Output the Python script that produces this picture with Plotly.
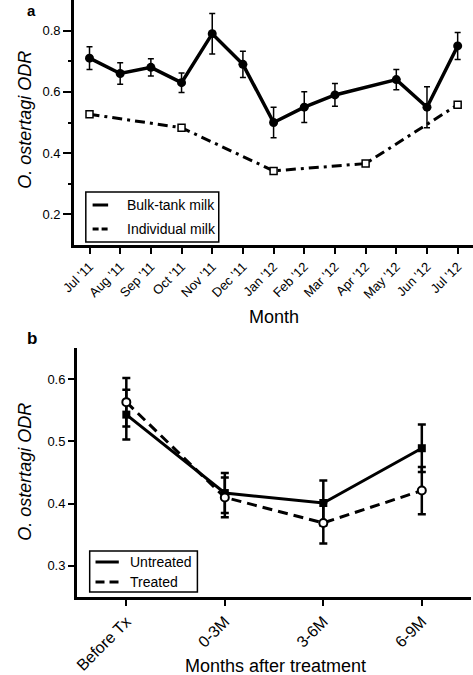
import plotly.graph_objects as go

# ---------------- Data ----------------
months = ["Jul '11", "Aug '11", "Sep '11", "Oct '11", "Nov '11", "Dec '11",
          "Jan '12", "Feb '12", "Mar '12", "Apr '12", "May '12", "Jun '12", "Jul '12"]

bulk_months = ["Jul '11", "Aug '11", "Sep '11", "Oct '11", "Nov '11", "Dec '11",
               "Jan '12", "Feb '12", "Mar '12", "May '12", "Jun '12", "Jul '12"]
bulk_odr = [0.71, 0.66, 0.68, 0.63, 0.79, 0.69, 0.50, 0.55, 0.59, 0.64, 0.55, 0.75]
bulk_err = [0.037, 0.035, 0.028, 0.032, 0.066, 0.043, 0.05, 0.05, 0.037, 0.033, 0.067, 0.044]

indiv_months = ["Jul '11", "Oct '11", "Jan '12", "Apr '12", "Jul '12"]
indiv_odr = [0.527, 0.483, 0.342, 0.366, 0.558]

periods = ["Before Tx", "0-3M", "3-6M", "6-9M"]
untreated_odr = [0.543, 0.417, 0.401, 0.489]
untreated_err = [0.040, 0.032, 0.036, 0.038]
treated_odr = [0.563, 0.410, 0.369, 0.421]
treated_err = [0.039, 0.032, 0.033, 0.038]

a_yticks = [0.2, 0.4, 0.6, 0.8]
a_yminor = [0.3, 0.5, 0.7]
b_yticks = [0.3, 0.4, 0.5, 0.6]

FONT = "Liberation Sans, Arial, Helvetica, sans-serif"
W, H = 473, 675

def px(x):
    return x / W

def py(y):
    return 1 - y / H

fig = go.Figure()

# Panel a
fig.add_trace(go.Scatter(
    x=bulk_months, y=bulk_odr, mode="lines+markers", name="Bulk-tank milk",
    line=dict(color="black", width=3.5),
    marker=dict(symbol="circle", size=9, color="black"),
    error_y=dict(type="data", array=bulk_err, visible=True, color="black",
                 thickness=1.5, width=3),
    xaxis="x", yaxis="y", showlegend=False, cliponaxis=False))
fig.add_trace(go.Scatter(
    x=indiv_months, y=indiv_odr, mode="lines+markers", name="Individual milk",
    line=dict(color="black", width=3, dash="10px,5px,3px,5px"),
    marker=dict(symbol="square", size=7, color="white",
                line=dict(color="black", width=1.5)),
    xaxis="x", yaxis="y", showlegend=False, cliponaxis=False))

# Panel b
fig.add_trace(go.Scatter(
    x=periods, y=untreated_odr, mode="lines+markers", name="Untreated",
    line=dict(color="black", width=3),
    marker=dict(symbol="square", size=8, color="black"),
    error_y=dict(type="data", array=untreated_err, visible=True, color="black",
                 thickness=2.5, width=4),
    xaxis="x2", yaxis="y2", showlegend=False))
fig.add_trace(go.Scatter(
    x=periods, y=treated_odr, mode="lines+markers", name="Treated",
    line=dict(color="black", width=3, dash="10px,6px"),
    marker=dict(symbol="circle", size=8, color="white",
                line=dict(color="black", width=2)),
    error_y=dict(type="data", array=treated_err, visible=True, color="black",
                 thickness=2.5, width=4),
    xaxis="x2", yaxis="y2", showlegend=False))

axis_common = dict(showline=True, linecolor="black", showgrid=False, zeroline=False,
                   ticks="outside", tickcolor="black", tickwidth=2,
                   tickfont=dict(family=FONT, size=13, color="black"))

fig.update_layout(
    width=W, height=H,
    margin=dict(l=0, r=0, t=0, b=0),
    paper_bgcolor="white", plot_bgcolor="white",
    font=dict(family=FONT, color="black"),
    xaxis=dict(axis_common, domain=[px(62), 1], range=[-0.5, 12.5], type="category",
               categoryorder="array", categoryarray=months,
               tickangle=-45, ticklen=6, linewidth=3, anchor="y",
               tickfont=dict(family=FONT, size=13, color="black")),
    yaxis=dict(axis_common, domain=[py(245), 1], range=[0.1, 0.9],
               tickvals=a_yticks, ticktext=[f"{v:.1f}" for v in a_yticks],
               ticklen=8, linewidth=3, anchor="x",
               minor=dict(tickvals=a_yminor, ticks="outside", ticklen=3,
                          tickwidth=2, tickcolor="black")),
    xaxis2=dict(axis_common, domain=[px(65), px(471)], range=[-0.5, 3.5], type="category",
                categoryorder="array", categoryarray=periods,
                tickangle=-45, ticklen=6, linewidth=3, anchor="y2",
                tickfont=dict(family=FONT, size=16, color="black")),
    yaxis2=dict(axis_common, domain=[py(597), py(348)], range=[0.25, 0.65],
                tickvals=b_yticks, ticktext=[f"{v:.1f}" for v in b_yticks],
                ticklen=6, linewidth=3, anchor="x2"),
)

# Manual legends
shapes = [
    dict(type="rect", xref="paper", yref="paper", x0=px(74), x1=px(211), y0=py(242), y1=py(192),
         line=dict(color="black", width=1.5), fillcolor="white", layer="above"),
    dict(type="line", xref="paper", yref="paper", x0=px(81), x1=px(97), y0=py(205), y1=py(205),
         line=dict(color="black", width=3), layer="above"),
    dict(type="line", xref="paper", yref="paper", x0=px(81), x1=px(97), y0=py(229), y1=py(229),
         line=dict(color="black", width=3, dash="6px,3px"), layer="above"),
    dict(type="rect", xref="paper", yref="paper", x0=px(78), x1=px(189), y0=py(592), y1=py(551),
         line=dict(color="black", width=1.5), fillcolor="white", layer="above"),
    dict(type="line", xref="paper", yref="paper", x0=px(84), x1=px(108), y0=py(562), y1=py(562),
         line=dict(color="black", width=3), layer="above"),
    dict(type="line", xref="paper", yref="paper", x0=px(84), x1=px(108), y0=py(582), y1=py(582),
         line=dict(color="black", width=3, dash="9px,5px"), layer="above"),
]
fig.update_layout(shapes=shapes)

def ann(text, x, y, size, xanchor="center", angle=0, bold=False):
    fig.add_annotation(text=f"<b>{text}</b>" if bold else text,
                       x=px(x), y=py(y), xref="paper", yref="paper",
                       xanchor=xanchor, yanchor="middle", showarrow=False,
                       textangle=angle,
                       font=dict(family=FONT, size=size, color="black"))

ann("Bulk-tank milk", 114, 205, 14, xanchor="left")
ann("Individual milk", 114, 229, 14, xanchor="left")
ann("Untreated", 117, 562, 14, xanchor="left")
ann("Treated", 117, 582, 14, xanchor="left")
ann("Month", 268, 317, 18)
ann("Months after treatment", 269, 666, 18)
ann("<i>O. ostertagi ODR</i>", 11, 120, 18, angle=-90)
ann("<i>O. ostertagi ODR</i>", 11, 472, 18, angle=-90)
ann("a", 18, 10, 15, bold=True)
ann("b", 19, 338, 17, bold=True)

fig.write_html("out.html", config={"displayModeBar": False},
               post_script="document.body.style.margin='0';document.body.style.overflow='hidden';")
